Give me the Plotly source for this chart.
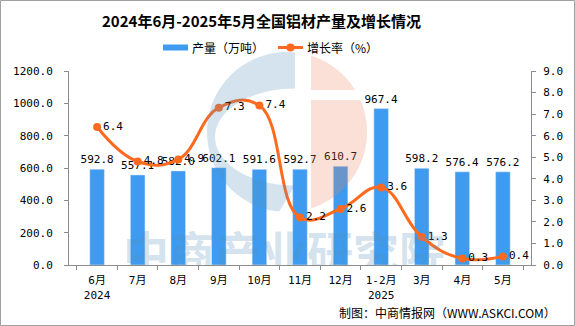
import math
import plotly.graph_objects as go

categories = ["6月<br>2024", "7月", "8月", "9月", "10月", "11月", "12月", "1-2月<br>2025", "3月", "4月", "5月"]
production = [592.8, 557.1, 582.0, 602.1, 591.6, 592.7, 610.7, 967.4, 598.2, 576.4, 576.2]
growth = [6.4, 4.8, 4.9, 7.3, 7.4, 2.2, 2.6, 3.6, 1.3, 0.3, 0.4]
legend_names = ["产量（万吨）", "增长率（%）"]
title_text = "2024年6月-2025年5月全国铝材产量及增长情况"
source_text = "制图：中商情报网（WWW.ASKCI.COM）"
watermark_text = "中商产业研究院"

W, H = 575, 326
L, R, T, B = 69, 44, 71, 61
PW, PH = W - L - R, H - T - B

def px(x):
    return (x - L) / PW

def py(y):
    return (H - B - y) / PH

num_font = "'DejaVu Sans Mono', 'Noto Sans CJK SC', monospace"
cn_font = "'Noto Sans CJK SC', sans-serif"
bar_color = "#3E9BEF"
line_color = "#FF6A1F"
grey = "#8C8C8C"

fig = go.Figure()
fig.add_trace(go.Bar(
    x=categories, y=production, name=legend_names[0],
    marker_color=bar_color, width=0.36,
    text=[f"{v:.1f}" for v in production], textposition="outside",
    constraintext="none", textangle=0,
    textfont=dict(size=11, color="#000", family=num_font), cliponaxis=False,
    showlegend=False,
))
fig.add_trace(go.Scatter(
    x=categories, y=growth, name=legend_names[1], yaxis="y2",
    mode="lines+markers+text",
    line=dict(color=line_color, width=3, shape="spline", smoothing=1.2),
    marker=dict(color=line_color, size=8),
    text=[f"{v:.1f}" for v in growth], textposition="middle right",
    textfont=dict(size=11, color="#000", family=num_font), cliponaxis=False,
    showlegend=False,
))
# watermark text, clipped to plot area
fig.add_trace(go.Scatter(
    x=[px(284)], y=[py(258)], xaxis="x3", yaxis="y3", mode="text",
    text=[f"<b>{watermark_text}</b>"], textposition="middle center",
    textfont=dict(size=46, color="rgba(84,144,188,0.26)", family=cn_font),
    cliponaxis=True, showlegend=False, hoverinfo="skip",
))

# --- logo watermark shapes (decoration) ---
def arc(cx, cy, rx, ry, a0, a1, n=40):
    pts = []
    for i in range(n + 1):
        a = math.radians(a0 + (a1 - a0) * i / n)
        pts.append((cx + rx * math.cos(a), cy + ry * math.sin(a)))
    return pts

def path(pts):
    return "M " + " L ".join(f"{px(x):.4f},{py(y):.4f}" for x, y in pts) + " Z"

cx, cy, r = 287, 132, 80
blue_pts = arc(cx, cy, r, r, -84.3, -264.3) + arc(295, 137, 80, 48.5, 90, 270)
sal_up = arc(cx, cy, r, r, -72.5, -31.7) + [(311, 90)]
sal_lo = [(311, 100)] + arc(cx, cy, r, r, -23.6, 72.5)

shapes = [
    dict(type="path", path=path(blue_pts), xref="paper", yref="paper", layer="above",
         fillcolor="rgba(84,144,188,0.25)", line=dict(width=0)),
    dict(type="path", path=path(sal_up), xref="paper", yref="paper", layer="above",
         fillcolor="rgba(237,131,91,0.25)", line=dict(width=0)),
    dict(type="path", path=path(sal_lo), xref="paper", yref="paper", layer="above",
         fillcolor="rgba(237,131,91,0.25)", line=dict(width=0)),
    # legend symbols
    dict(type="rect", xref="paper", yref="paper", x0=px(163), x1=px(188), y0=py(50.5), y1=py(44.5),
         fillcolor=bar_color, line=dict(width=0)),
    dict(type="line", xref="paper", yref="paper", x0=px(278), x1=px(303), y0=py(47.5), y1=py(47.5),
         line=dict(color=line_color, width=3)),
    dict(type="circle", xref="paper", yref="paper", x0=px(286.5), x1=px(294.5), y0=py(51.5), y1=py(43.5),
         fillcolor=line_color, line=dict(width=0)),
    # outer border
    dict(type="rect", xref="paper", yref="paper", x0=px(0.5), x1=px(574.5), y0=py(325.5), y1=py(0.5),
         line=dict(color="#A0A0A0", width=1)),
]

annotations = [
    dict(text=f"<b>{title_text}</b>", xref="paper", yref="paper", x=px(261), y=py(20),
         xanchor="center", yanchor="middle", showarrow=False,
         font=dict(size=15, color="#000", family=cn_font)),
    dict(text=legend_names[0], xref="paper", yref="paper", x=px(190), y=py(47.5),
         xanchor="left", yanchor="middle", showarrow=False,
         font=dict(size=12, color="#000", family=cn_font)),
    dict(text=legend_names[1], xref="paper", yref="paper", x=px(305), y=py(47.5),
         xanchor="left", yanchor="middle", showarrow=False,
         font=dict(size=12, color="#000", family=cn_font)),
    dict(text=source_text, xref="paper", yref="paper", x=px(558), y=py(312),
         xanchor="right", yanchor="middle", showarrow=False,
         font=dict(size=12, color="#000", family=cn_font)),
]

fig.update_layout(
    width=W, height=H,
    margin=dict(l=L, r=R, t=T, b=B),
    paper_bgcolor="white", plot_bgcolor="white",
    font=dict(family=num_font, size=11, color="#000"),
    showlegend=False,
    xaxis=dict(showline=True, linecolor=grey, ticks="outside", tickcolor=grey, ticklen=4,
               ticklabelstandoff=5,
               tickson="boundaries", tickfont=dict(size=11, family=num_font), showgrid=False),
    yaxis=dict(range=[0, 1200], dtick=200, tickformat=".1f", showline=True, linecolor=grey,
               ticks="outside", tickcolor=grey, ticklen=4, ticklabelstandoff=9,
               showgrid=False, zeroline=False, tickfont=dict(size=11, family=num_font)),
    yaxis2=dict(range=[0, 9], dtick=1, tickformat=".1f", overlaying="y", side="right",
                showline=True, linecolor=grey, ticks="outside", tickcolor=grey, ticklen=4,
                ticklabelstandoff=5,
                showgrid=False, zeroline=False, tickfont=dict(size=11, family=num_font)),
    xaxis3=dict(range=[0, 1], overlaying="x", visible=False, fixedrange=True),
    yaxis3=dict(range=[0, 1], overlaying="y", visible=False, fixedrange=True),
    shapes=shapes,
    annotations=annotations,
)

fig.write_html("out.html")
